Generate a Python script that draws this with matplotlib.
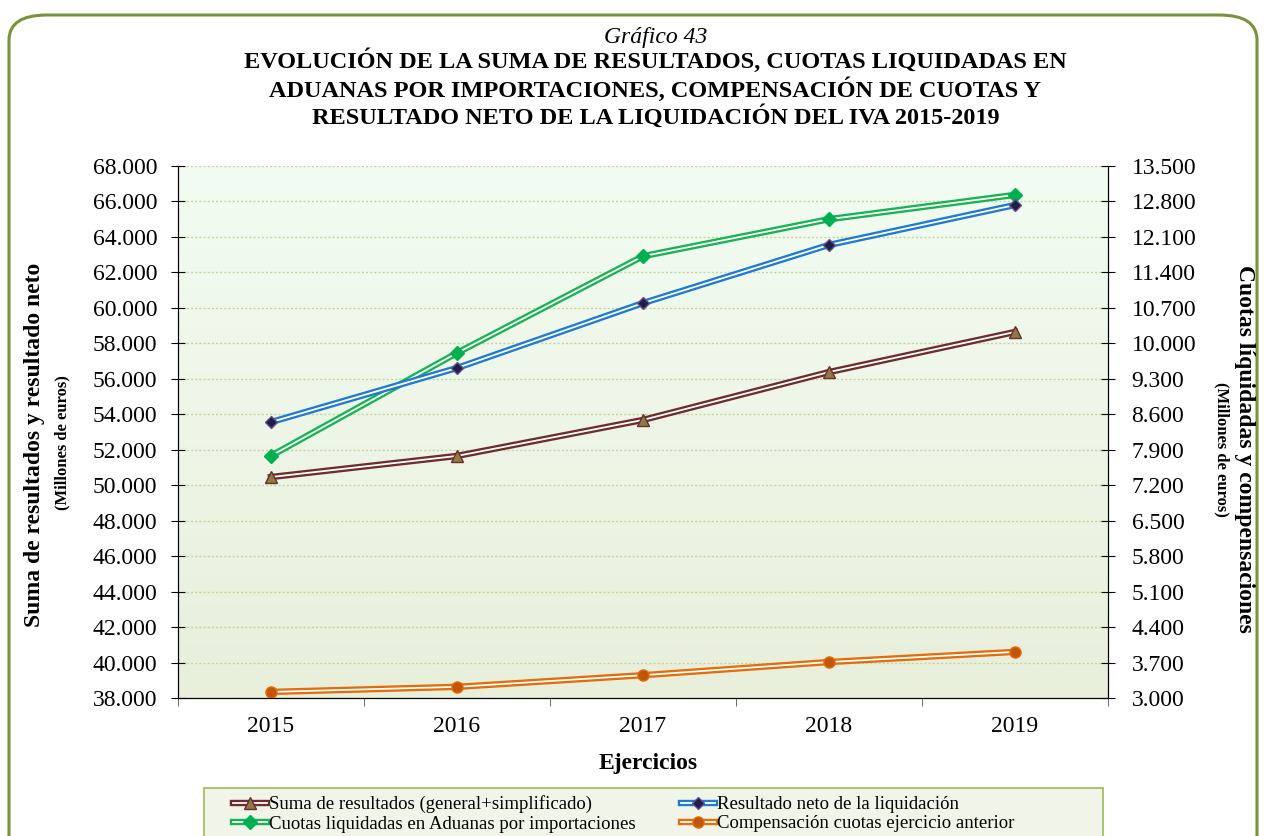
import numpy as np
import matplotlib.pyplot as plt
import matplotlib.patheffects as pe
from matplotlib.patches import FancyBboxPatch, Rectangle
from matplotlib.colors import LinearSegmentedColormap
from matplotlib.ticker import FuncFormatter

plt.rcParams['font.family'] = ['Liberation Serif', 'DejaVu Serif']

# Datos (millones de euros)
years = ["2015", "2016", "2017", "2018", "2019"]
suma_resultados = [50460, 51650, 53680, 56380, 58640]
resultado_neto = [53560, 56610, 60270, 63550, 65800]
cuotas_aduanas = [7780, 9810, 11720, 12450, 12930]
compensacion = [3120, 3220, 3450, 3710, 3910]

fig = plt.figure(figsize=(12.64, 8.36), dpi=100)

# marco redondeado verde
frame = FancyBboxPatch((9 / 1264, -0.05), 1248 / 1264, 1.05 - 15 / 836,
                       boxstyle="round,pad=0,rounding_size=0.03",
                       transform=fig.transFigure, facecolor="white",
                       edgecolor="#77933c", linewidth=2.2, zorder=-10)
fig.patches.append(frame)

ax = fig.add_axes([178 / 1264, 1 - 698 / 836, 930 / 1264, 532 / 836])
ax2 = ax.twinx()
ax.set_zorder(ax2.get_zorder() + 1)
ax.patch.set_visible(False)

# fondo degradado
grad = np.linspace(0, 1, 256).reshape(-1, 1)
cmap = LinearSegmentedColormap.from_list("fondo", ["#f2fcf2", "#e8efdb"])
ax2.imshow(grad, aspect="auto", cmap=cmap, extent=(0, 1, 0, 1),
           transform=ax2.transAxes, zorder=0)

x = np.arange(len(years))


def double_line(axis, values, color, marker, mfc, mec, ms):
    line, = axis.plot(x, values, color="white", lw=1.3, zorder=3,
                      path_effects=[pe.Stroke(linewidth=4.6, foreground=color), pe.Normal()])
    mk, = axis.plot(x, values, ls="none", marker=marker, mfc=mfc, mec=mec,
                    mew=1.0, ms=ms, zorder=4)
    return (line, mk)


h_suma = double_line(ax, suma_resultados, "#6e2c2c", "^", "#8f7a45", "#6e2c2c", 9)
h_neto = double_line(ax, resultado_neto, "#1f7bd0", "D", "#1c1f4a", "#6a4a8a", 6)
h_cuot = double_line(ax2, cuotas_aduanas, "#17b352", "D", "#00b050", "#00b050", 7)
h_comp = double_line(ax2, compensacion, "#e46c0a", "o", "#c0560a", "#e46c0a", 8)

ax.set_xlim(-0.5, 4.5)
ax.set_ylim(38000, 68000)
ax2.set_ylim(3000, 13500)
ax.set_yticks(np.arange(38000, 68001, 2000))
ax2.set_yticks(np.arange(3000, 13501, 700))
fmt = FuncFormatter(lambda v, p: f"{int(v):,}".replace(",", "."))
ax.yaxis.set_major_formatter(fmt)
ax2.yaxis.set_major_formatter(fmt)

# rejilla debajo de todas las líneas (los ticks de ambos ejes coinciden)
ax2.set_axisbelow(True)
ax2.grid(axis="y", color="#c5d69a", linestyle=(0, (1.5, 1.5)), lw=1.0)

ax.set_xticks(x)
ax.set_xticklabels(years)
ax.set_xticks(np.arange(-0.5, 5, 1), minor=True)
ax.tick_params(axis="x", which="major", length=0, labelsize=17, pad=13)
ax.tick_params(axis="x", which="minor", length=6, color="#555555", direction="out")
ax.tick_params(axis="y", direction="inout", length=10, labelsize=17, pad=10)
ax2.tick_params(axis="y", direction="inout", length=10, labelsize=17, pad=12)

for a in (ax, ax2):
    a.spines["top"].set_visible(False)
    a.spines["left"].set_color("black")
    a.spines["right"].set_color("black")
    a.spines["bottom"].set_color("black")

# títulos
fig.text(0.519, 1 - 37 / 836, "Gráfico 43", ha="center", va="center",
         fontsize=17, style="italic")
fig.text(0.5185, 1 - 89 / 836,
         "EVOLUCIÓN DE LA SUMA DE RESULTADOS, CUOTAS LIQUIDADAS EN\n"
         "ADUANAS POR IMPORTACIONES, COMPENSACIÓN DE CUOTAS Y\n"
         "RESULTADO NETO DE LA LIQUIDACIÓN DEL IVA 2015-2019",
         ha="center", va="center", fontsize=17.5, fontweight="bold",
         linespacing=1.2)

fig.text(648 / 1264, 1 - 763 / 836, "Ejercicios", ha="center", va="center",
         fontsize=17, fontweight="bold")
fig.text(35 / 1264, 1 - 445 / 836, "Suma de resultados y resultado neto",
         rotation=90, ha="center", va="center", fontsize=17, fontweight="bold")
fig.text(62 / 1264, 1 - 443 / 836, "(Millones de euros)",
         rotation=90, ha="center", va="center", fontsize=12, fontweight="bold")
fig.text(1245 / 1264, 1 - 449 / 836, "Cuotas líquidadas y compensaciones",
         rotation=-90, ha="center", va="center", fontsize=17, fontweight="bold")
fig.text(1222 / 1264, 1 - 449 / 836, "(Millones de euros)",
         rotation=-90, ha="center", va="center", fontsize=12, fontweight="bold")

# leyenda
legbox = Rectangle((204 / 1264, -0.02), 899 / 1264, 0.02 + 1 - 788 / 836,
                   transform=fig.transFigure, facecolor="#f1f5e9",
                   edgecolor="#9bbb59", lw=1.2, zorder=-5)
fig.patches.append(legbox)
handles = [h_suma, h_cuot, h_neto, h_comp]
labels = ["Suma de resultados (general+simplificado)",
          "Cuotas liquidadas en Aduanas por importaciones",
          "Resultado neto de la liquidación",
          "Compensación cuotas ejercicio anterior"]
fig.legend(handles, labels, ncol=2, loc="upper left",
           bbox_to_anchor=(222 / 1264, 1 - 784 / 836), frameon=False,
           fontsize=13.5, handlelength=1.8, handletextpad=0.1,
           columnspacing=2.45, labelspacing=0.12, borderpad=0.1)

fig.savefig("out.png", dpi=100)
